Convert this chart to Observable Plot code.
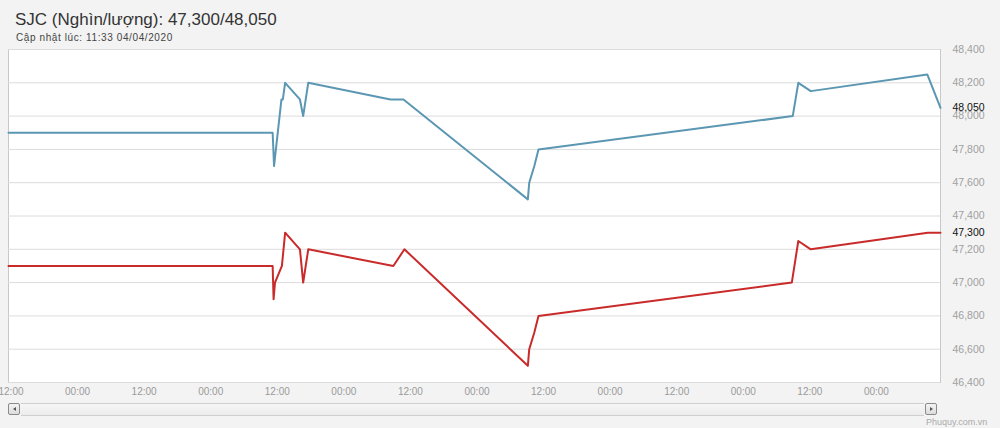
<!DOCTYPE html>
<html>
<head>
<meta charset="utf-8">
<script src="https://cdn.jsdelivr.net/npm/d3@7"></script>
<script src="https://cdn.jsdelivr.net/npm/@observablehq/plot@0.6"></script>
<style>
  html, body { margin: 0; padding: 0; }
  body { width: 1000px; height: 428px; background: #f3f3f3; position: relative; overflow: hidden; font-family: "Liberation Sans", Arial, sans-serif; }
  #title { position: absolute; left: 15px; top: 11px; font-size: 17px; line-height: 17px; color: #333; white-space: nowrap; }
  #subtitle { position: absolute; left: 16px; top: 33px; font-size: 10px; line-height: 10px; color: #444; letter-spacing: 0.6px; white-space: nowrap; }
  #chart { position: absolute; left: 0; top: 40px; }
  .track { position: absolute; left: 21px; top: 403px; width: 903px; height: 11px; border-top: 1px solid #cfcfcf; border-bottom: 1px solid #cfcfcf; background: linear-gradient(#f6f6f6, #ececec); }
  .btn { position: absolute; top: 403px; width: 12px; height: 12px; border: 1px solid #8a8a8a; border-radius: 2px; background: linear-gradient(#f4f4f4, #dcdcdc); box-sizing: border-box; }
  .btn::after { content: ""; position: absolute; left: 4px; top: 3px; width: 0; height: 0; border-top: 2.5px solid transparent; border-bottom: 2.5px solid transparent; }
  #btnL { left: 8px; }
  #btnL::after { border-right: 3px solid #555; }
  #btnR { left: 925px; }
  #btnR::after { border-left: 3px solid #555; }
  #credit { position: absolute; left: 926px; top: 417px; font-size: 9px; color: #aaa; white-space: nowrap; }
</style>
</head>
<body>
<div id="title">SJC (Nghìn/lượng): 47,300/48,050</div>
<div id="subtitle">Cập nhật lúc: 11:33 04/04/2020</div>
<div id="chart"></div>
<div class="track"></div>
<div class="btn" id="btnL"></div>
<div class="btn" id="btnR"></div>
<div id="credit">Phuquy.com.vn</div>
<script>
// Sell price (blue) series
const sellTimes = [
  "2020-03-28T11:33", "2020-03-30T11:10", "2020-03-30T11:25", "2020-03-30T12:45",
  "2020-03-30T13:00", "2020-03-30T13:25", "2020-03-30T16:05", "2020-03-30T16:40",
  "2020-03-30T17:35", "2020-03-31T08:25", "2020-03-31T10:45", "2020-04-01T09:10",
  "2020-04-01T09:25", "2020-04-01T10:20", "2020-04-01T11:05", "2020-04-03T08:55",
  "2020-04-03T09:55", "2020-04-03T12:10", "2020-04-04T09:10", "2020-04-04T11:33"
];
const sellValues = [
  47900, 47900, 47700, 48100,
  48100, 48200, 48100, 48000,
  48200, 48100, 48100, 47500,
  47600, 47700, 47800, 48000,
  48200, 48150, 48250, 48050
];
// Buy price (red) series
const buyTimes = [
  "2020-03-28T11:33", "2020-03-30T11:10", "2020-03-30T11:20", "2020-03-30T11:35",
  "2020-03-30T12:50", "2020-03-30T13:25", "2020-03-30T16:05", "2020-03-30T16:40",
  "2020-03-30T17:35", "2020-03-31T08:55", "2020-03-31T10:55", "2020-04-01T09:10",
  "2020-04-01T09:25", "2020-04-01T10:20", "2020-04-01T11:05", "2020-04-03T08:45",
  "2020-04-03T09:55", "2020-04-03T12:10", "2020-04-04T09:15", "2020-04-04T11:33"
];
const buyValues = [
  47100, 47100, 46900, 47000,
  47100, 47300, 47200, 47000,
  47200, 47100, 47200, 46500,
  46600, 46700, 46800, 47000,
  47250, 47200, 47300, 47300
];
const xDomain = ["2020-03-28T11:33", "2020-04-04T11:33"];
const yTicks = [46400, 46600, 46800, 47000, 47200, 47400, 47600, 47800, 48000, 48200, 48400];
const currentValues = [48050, 47300];

const parse = s => new Date(s + ":00Z");
const sell = sellTimes.map((t, i) => ({date: parse(t), value: sellValues[i]}));
const buy = buyTimes.map((t, i) => ({date: parse(t), value: buyValues[i]}));
const fmt = d3.format(",");

const chart = Plot.plot({
  width: 1000,
  height: 365,
  marginTop: 9,
  marginBottom: 23,
  marginLeft: 8,
  marginRight: 60,
  style: {background: "transparent", overflow: "visible", fontFamily: "Liberation Sans, Arial, sans-serif"},
  x: {type: "utc", domain: xDomain.map(parse), label: null},
  y: {domain: [46400, 48400], label: null},
  marks: [
    Plot.frame({fill: "white", stroke: "#c9c9c9"}),
    Plot.gridY(yTicks, {stroke: "#dcdcdc", strokeOpacity: 1, strokeWidth: 1}),
    Plot.line(sell, {x: "date", y: "value", stroke: "#5b97b3", strokeWidth: 2}),
    Plot.line(buy, {x: "date", y: "value", stroke: "#c92a2a", strokeWidth: 2}),
    Plot.axisX({ticks: d3.utcHour.every(12), tickFormat: d3.utcFormat("%H:%M"), tickSize: 0, tickPadding: 5, fill: "#9a9a9a", fontSize: 10, label: null}),
    Plot.axisY(yTicks, {anchor: "right", tickSize: 0, tickPadding: 12, tickFormat: fmt, fill: "#a0a0a0", fontSize: 10.5, label: null}),
    Plot.axisY(currentValues, {anchor: "right", tickSize: 0, tickPadding: 12, tickFormat: fmt, fill: "#111", fontSize: 10.5, label: null})
  ]
});
document.getElementById("chart").appendChild(chart);
</script>
</body>
</html>
